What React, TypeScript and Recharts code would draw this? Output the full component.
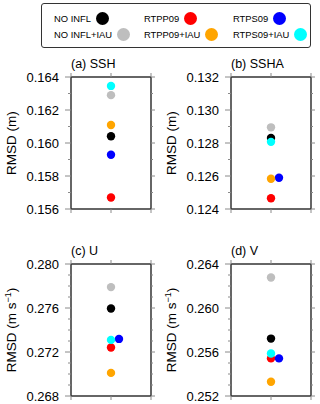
import React from 'react';
import { ScatterChart, Scatter, XAxis, YAxis, Label } from 'recharts';

const FONT = '"Liberation Sans", Arial, Helvetica, sans-serif';

// experiments, in plotting order (later ones drawn on top)
const experiments = ['NO INFL', 'RTPP09', 'RTPS09', 'NO INFL+IAU', 'RTPP09+IAU', 'RTPS09+IAU'];
const colors = ['#000000', '#ff0000', '#0000ff', '#bebebe', '#ffa500', '#00ffff'];

// RMSD values per experiment
const sshValues = [0.16041, 0.1567, 0.15929, 0.1629, 0.16109, 0.16346];
const sshaValues = [0.12831, 0.12465, 0.12589, 0.12895, 0.12583, 0.12807];
const uValues = [0.27595, 0.27241, 0.27319, 0.2779, 0.2701, 0.2731];
const vValues = [0.25722, 0.25542, 0.25542, 0.26277, 0.25329, 0.25587];

// x position of each marker (RTPS09 nudged right where it would overlap)
const xCentered = [1, 1, 1, 1, 1, 1];
const xNudged = [1, 1, 1.2, 1, 1, 1];
const xTicks = [0, 1, 2];

// y ticks (every 0.001) and labelled ticks
const sshTicks = [0.156, 0.157, 0.158, 0.159, 0.16, 0.161, 0.162, 0.163, 0.164];
const sshMajor = [0.156, 0.158, 0.16, 0.162, 0.164];
const sshaTicks = [0.124, 0.125, 0.126, 0.127, 0.128, 0.129, 0.13, 0.131, 0.132];
const sshaMajor = [0.124, 0.126, 0.128, 0.13, 0.132];
const uTicks = [0.268, 0.269, 0.27, 0.271, 0.272, 0.273, 0.274, 0.275, 0.276, 0.277, 0.278, 0.279, 0.28];
const uMajor = [0.268, 0.272, 0.276, 0.28];
const vTicks = [0.252, 0.253, 0.254, 0.255, 0.256, 0.257, 0.258, 0.259, 0.26, 0.261, 0.262, 0.263, 0.264];
const vMajor = [0.252, 0.256, 0.26, 0.264];

const frameLine = { stroke: '#333', strokeWidth: 1.5 };
const TICK_COLOR = '#8a8a8a';

const isMajor = (majors: number[], v: number) => majors.some((m) => Math.abs(m - v) < 1e-9);

const leftTick = (majors: number[]) => (props: any) => {
  const { x, y, payload } = props;
  const major = isMajor(majors, payload.value);
  return (
    <g>
      <line x1={x - (major ? 6 : 3)} x2={x} y1={y} y2={y} stroke={TICK_COLOR} strokeWidth={1} />
      {major && (
        <text x={x - 12} y={y} dy="0.36em" textAnchor="end" fontSize={13} fontFamily={FONT} fill="#000">
          {payload.value.toFixed(3)}
        </text>
      )}
    </g>
  );
};

const rightTick = (majors: number[]) => (props: any) => {
  const { x, y, payload } = props;
  const major = isMajor(majors, payload.value);
  return <line x1={x} x2={x + (major ? 4 : 2)} y1={y} y2={y} stroke={TICK_COLOR} strokeWidth={1} />;
};

const bottomTick = (props: any) => {
  const { x, y } = props;
  return <line x1={x} x2={x} y1={y} y2={y + 4} stroke={TICK_COLOR} strokeWidth={1} />;
};

const topTick = (props: any) => {
  const { x, y } = props;
  return <line x1={x} x2={x} y1={y} y2={y - 4} stroke={TICK_COLOR} strokeWidth={1} />;
};

const dot = (props: any) => <circle cx={props.cx} cy={props.cy} r={4.2} fill={props.fill} />;
const noDot = () => <g />;

interface PanelProps {
  left: number;
  top: number;
  title: string;
  perSecond: boolean;
  values: number[];
  xs: number[];
  ticks: number[];
  majors: number[];
}

const Panel: React.FC<PanelProps> = ({ left, top, title, perSecond, values, xs, ticks, majors }) => {
  const domain = [ticks[0], ticks[ticks.length - 1]];
  const points = values.map((v, i) => ({ x: xs[i], y: v }));
  return (
    <div style={{ position: 'absolute', left, top }}>
      <ScatterChart width={160} height={168} margin={{ top: 21, right: 8, bottom: 8, left: 0 }}>
        <XAxis xAxisId="b" type="number" dataKey="x" domain={[0, 2]} ticks={xTicks} interval={0}
          height={6} tickSize={0} tickMargin={0} tickLine={false} axisLine={frameLine} tick={bottomTick} allowDataOverflow />
        <XAxis xAxisId="t" orientation="top" type="number" dataKey="x" domain={[0, 2]} ticks={xTicks} interval={0}
          height={1} tickSize={0} tickMargin={0} tickLine={false} axisLine={frameLine} tick={topTick} allowDataOverflow>
          <Label content={(p: any) => (
            <text x={p.viewBox.x} y={p.viewBox.y - 8} fontSize={12.5} fontFamily={FONT} fill="#000">{title}</text>
          )} />
        </XAxis>
        <YAxis yAxisId="l" type="number" dataKey="y" domain={domain} ticks={ticks} interval={0}
          width={71} tickSize={0} tickMargin={0} tickLine={false} axisLine={frameLine} tick={leftTick(majors)} allowDataOverflow>
          <Label content={(p: any) => {
            const cx = p.viewBox.x + 11;
            const cy = p.viewBox.y + p.viewBox.height / 2;
            return (
              <text x={cx} y={cy} dy="0.36em" textAnchor="middle" transform={`rotate(-90 ${cx} ${cy})`}
                fontSize={13.5} fontFamily={FONT} fill="#000">
                {perSecond ? (
                  <>
                    RMSD (m s<tspan dy={-5} fontSize={9}>−1</tspan><tspan dy={5}>)</tspan>
                  </>
                ) : 'RMSD (m)'}
              </text>
            );
          }} />
        </YAxis>
        <YAxis yAxisId="r" orientation="right" type="number" dataKey="y" domain={domain} ticks={ticks} interval={0}
          width={1} tickSize={0} tickMargin={0} tickLine={false} axisLine={frameLine} tick={rightTick(majors)} allowDataOverflow />
        {experiments.map((name, i) => (
          <Scatter key={name} name={name} xAxisId="b" yAxisId="l" data={[points[i]]}
            fill={colors[i]} shape={dot} isAnimationActive={false} />
        ))}
        {/* invisible series so the top and right frame axes get drawn */}
        <Scatter xAxisId="t" yAxisId="r" data={points} shape={noDot} isAnimationActive={false} />
      </ScatterChart>
    </div>
  );
};

const legendCols = [12, 102, 191];
const legendRows = [14, 30];

const LegendBox: React.FC = () => (
  <div style={{
    position: 'absolute', left: 41, top: 3, width: 268, height: 43,
    border: '1.5px solid #333', borderRadius: 3, fontFamily: FONT, fontSize: 9.4, color: '#000',
  }}>
    {experiments.map((name, i) => (
      <div key={name} style={{
        position: 'absolute', left: legendCols[i % 3], top: legendRows[Math.floor(i / 3)] - 7,
        height: 14, display: 'flex', alignItems: 'center', whiteSpace: 'nowrap',
      }}>
        <span>{name}</span>
        <span style={{
          display: 'inline-block', width: 13, height: 13, borderRadius: '50%',
          background: colors[i], marginLeft: 5,
        }} />
      </div>
    ))}
  </div>
);

export default function App() {
  return (
    <div style={{ position: 'absolute', left: 0, top: 0, width: 320, height: 404, background: '#fff', overflow: 'hidden' }}>
      <LegendBox />
      <Panel left={0} top={55} title="(a) SSH" perSecond={false} values={sshValues} xs={xCentered} ticks={sshTicks} majors={sshMajor} />
      <Panel left={160} top={55} title="(b) SSHA" perSecond={false} values={sshaValues} xs={xNudged} ticks={sshaTicks} majors={sshaMajor} />
      <Panel left={0} top={242} title="(c) U" perSecond values={uValues} xs={xNudged} ticks={uTicks} majors={uMajor} />
      <Panel left={160} top={242} title="(d) V" perSecond values={vValues} xs={xNudged} ticks={vTicks} majors={vMajor} />
    </div>
  );
}
